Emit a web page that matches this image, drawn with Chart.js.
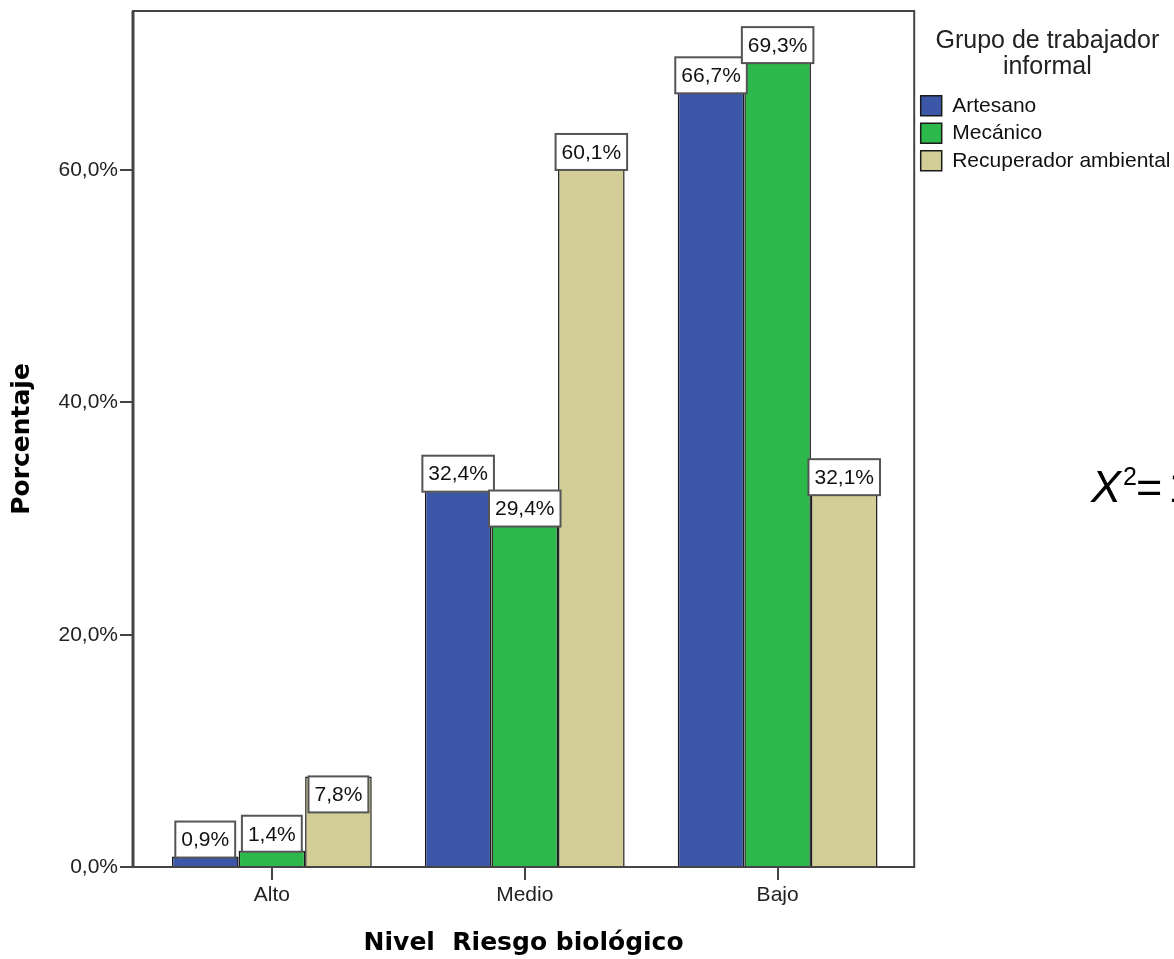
<!DOCTYPE html>
<html>
<head>
<meta charset="utf-8">
<script src="https://cdn.jsdelivr.net/npm/chart.js@4.4.1/dist/chart.umd.min.js"></script>
<style>
  body { margin: 0; background: #fff; }
  #wrap { width: 1174px; height: 959px; }
</style>
</head>
<body>
<div id="wrap"><canvas id="riesgoChart"></canvas></div>
<script>
// Datos del gráfico
const categorias = ['Alto', 'Medio', 'Bajo'];
const artesano = [0.9, 32.4, 66.7];
const mecanico = [1.4, 29.4, 69.3];
const recuperador = [7.8, 60.1, 32.1];
const yTicks = [0, 20, 40, 60];

const fmt = v => v.toFixed(1).replace('.', ',') + '%';
const toXY = arr => arr.map((v, i) => ({ x: i, y: v }));

Chart.defaults.font.family = '"Liberation Sans", Arial, sans-serif';
Chart.defaults.color = '#222';

// marco del área del gráfico
const marco = {
    id: 'marco',
    afterDatasetsDraw(chart) {
        const { ctx, chartArea: a } = chart;
        ctx.save();
        ctx.strokeStyle = '#444';
        ctx.lineWidth = 2;
        ctx.strokeRect(a.left, a.top, a.right - a.left, a.bottom - a.top);
        ctx.lineWidth = 3;
        ctx.beginPath();
        ctx.moveTo(a.left, a.top);
        ctx.lineTo(a.left, a.bottom);
        ctx.stroke();
        ctx.restore();
    }
};

// etiquetas con caja blanca sobre cada barra
const etiquetas = {
    id: 'etiquetas',
    afterDatasetsDraw(chart) {
        const ctx = chart.ctx;
        ctx.save();
        ctx.font = '21px "Liberation Sans", Arial, sans-serif';
        ctx.textAlign = 'center';
        ctx.textBaseline = 'middle';
        chart.data.datasets.forEach((ds, d) => {
            chart.getDatasetMeta(d).data.forEach((bar, i) => {
                const txt = fmt(ds.data[i].y);
                const w = ctx.measureText(txt).width + 12, h = 36;
                // la etiqueta de 7,8% va dentro de la barra
                const top = (d === 2 && i === 0) ? bar.y : bar.y - h + 1;
                ctx.fillStyle = '#fff';
                ctx.fillRect(bar.x - w / 2, top, w, h);
                ctx.strokeStyle = '#555';
                ctx.lineWidth = 2;
                ctx.strokeRect(bar.x - w / 2, top, w, h);
                ctx.fillStyle = '#111';
                ctx.fillText(txt, bar.x, top + h / 2 + 1);
            });
        });
        ctx.restore();
    }
};

// texto X² cortado en el borde derecho
const chiCuadrado = {
    id: 'chiCuadrado',
    afterDraw(chart) {
        const ctx = chart.ctx;
        ctx.save();
        ctx.fillStyle = '#000';
        ctx.textBaseline = 'alphabetic';
        ctx.font = 'italic 45px "Liberation Sans", Arial, sans-serif';
        ctx.fillText('X', 1091, 502);
        ctx.font = '25px "Liberation Sans", Arial, sans-serif';
        ctx.fillText('2', 1123, 485);
        ctx.font = '45px "Liberation Sans", Arial, sans-serif';
        ctx.fillText('=', 1136, 502);
        ctx.fillText('1', 1168.5, 502);
        ctx.restore();
    }
};

new Chart(document.getElementById('riesgoChart'), {
    type: 'bar',
    data: {
        datasets: [
            { label: 'Artesano', data: toXY(artesano), backgroundColor: '#3d57a8', borderColor: '#1a1a1a', borderWidth: 1.5 },
            { label: 'Mecánico', data: toXY(mecanico), backgroundColor: '#2db84b', borderColor: '#1a1a1a', borderWidth: 1.5 },
            { label: 'Recuperador ambiental', data: toXY(recuperador), backgroundColor: '#d3ce98', borderColor: '#1a1a1a', borderWidth: 1.5 }
        ]
    },
    options: {
        responsive: true,
        maintainAspectRatio: false,
        animation: false,
        layout: { padding: { top: 11, right: -6.5, bottom: 0, left: 0 } },
        categoryPercentage: 0.79,
        barPercentage: 1,
        plugins: {
            tooltip: { enabled: false },
            legend: {
                position: 'right',
                align: 'start',
                title: {
                    display: true,
                    text: ['Grupo de trabajador', 'informal'],
                    color: '#222',
                    font: { size: 25, lineHeight: 1.05 },
                    padding: { top: 17.5, bottom: 34 }
                },
                labels: { boxWidth: 21, boxHeight: 20, padding: 6.5, color: '#111', font: { size: 21 } }
            }
        },
        scales: {
            x: {
                type: 'linear',
                min: -0.549,
                max: 2.54,
                offset: false,
                afterBuildTicks: s => { s.ticks = categorias.map((c, i) => ({ value: i })); },
                afterFit: s => { s.height = 92; s.paddingLeft = 0; s.paddingRight = 0; },
                grid: { offset: false, drawOnChartArea: false, tickLength: 13, color: '#444', lineWidth: 2 },
                border: { display: false },
                ticks: { autoSkip: false, maxRotation: 0, padding: 3, color: '#222', font: { size: 21 }, callback: v => categorias[v] },
                title: {
                    display: true,
                    text: 'Nivel  Riesgo biológico',
                    color: '#000',
                    font: { family: '"DejaVu Sans", sans-serif', weight: 'bold', size: 25 },
                    padding: { top: 0, bottom: 1 }
                }
            },
            y: {
                min: 0,
                max: 73.7,
                afterBuildTicks: s => { s.ticks = yTicks.map(v => ({ value: v })); },
                afterFit: s => { s.width = 133; s.paddingTop = 0; s.paddingBottom = 0; },
                grid: { drawOnChartArea: false, tickLength: 13, color: '#444', lineWidth: 2 },
                border: { display: false },
                ticks: { padding: 2, color: '#222', font: { size: 21 }, callback: v => fmt(v) },
                title: {
                    display: true,
                    text: 'Porcentaje',
                    color: '#000',
                    font: { family: '"DejaVu Sans", sans-serif', weight: 'bold', size: 25 },
                    padding: { top: 7, bottom: 0 }
                }
            }
        }
    },
    plugins: [marco, etiquetas, chiCuadrado]
});
</script>
</body>
</html>
